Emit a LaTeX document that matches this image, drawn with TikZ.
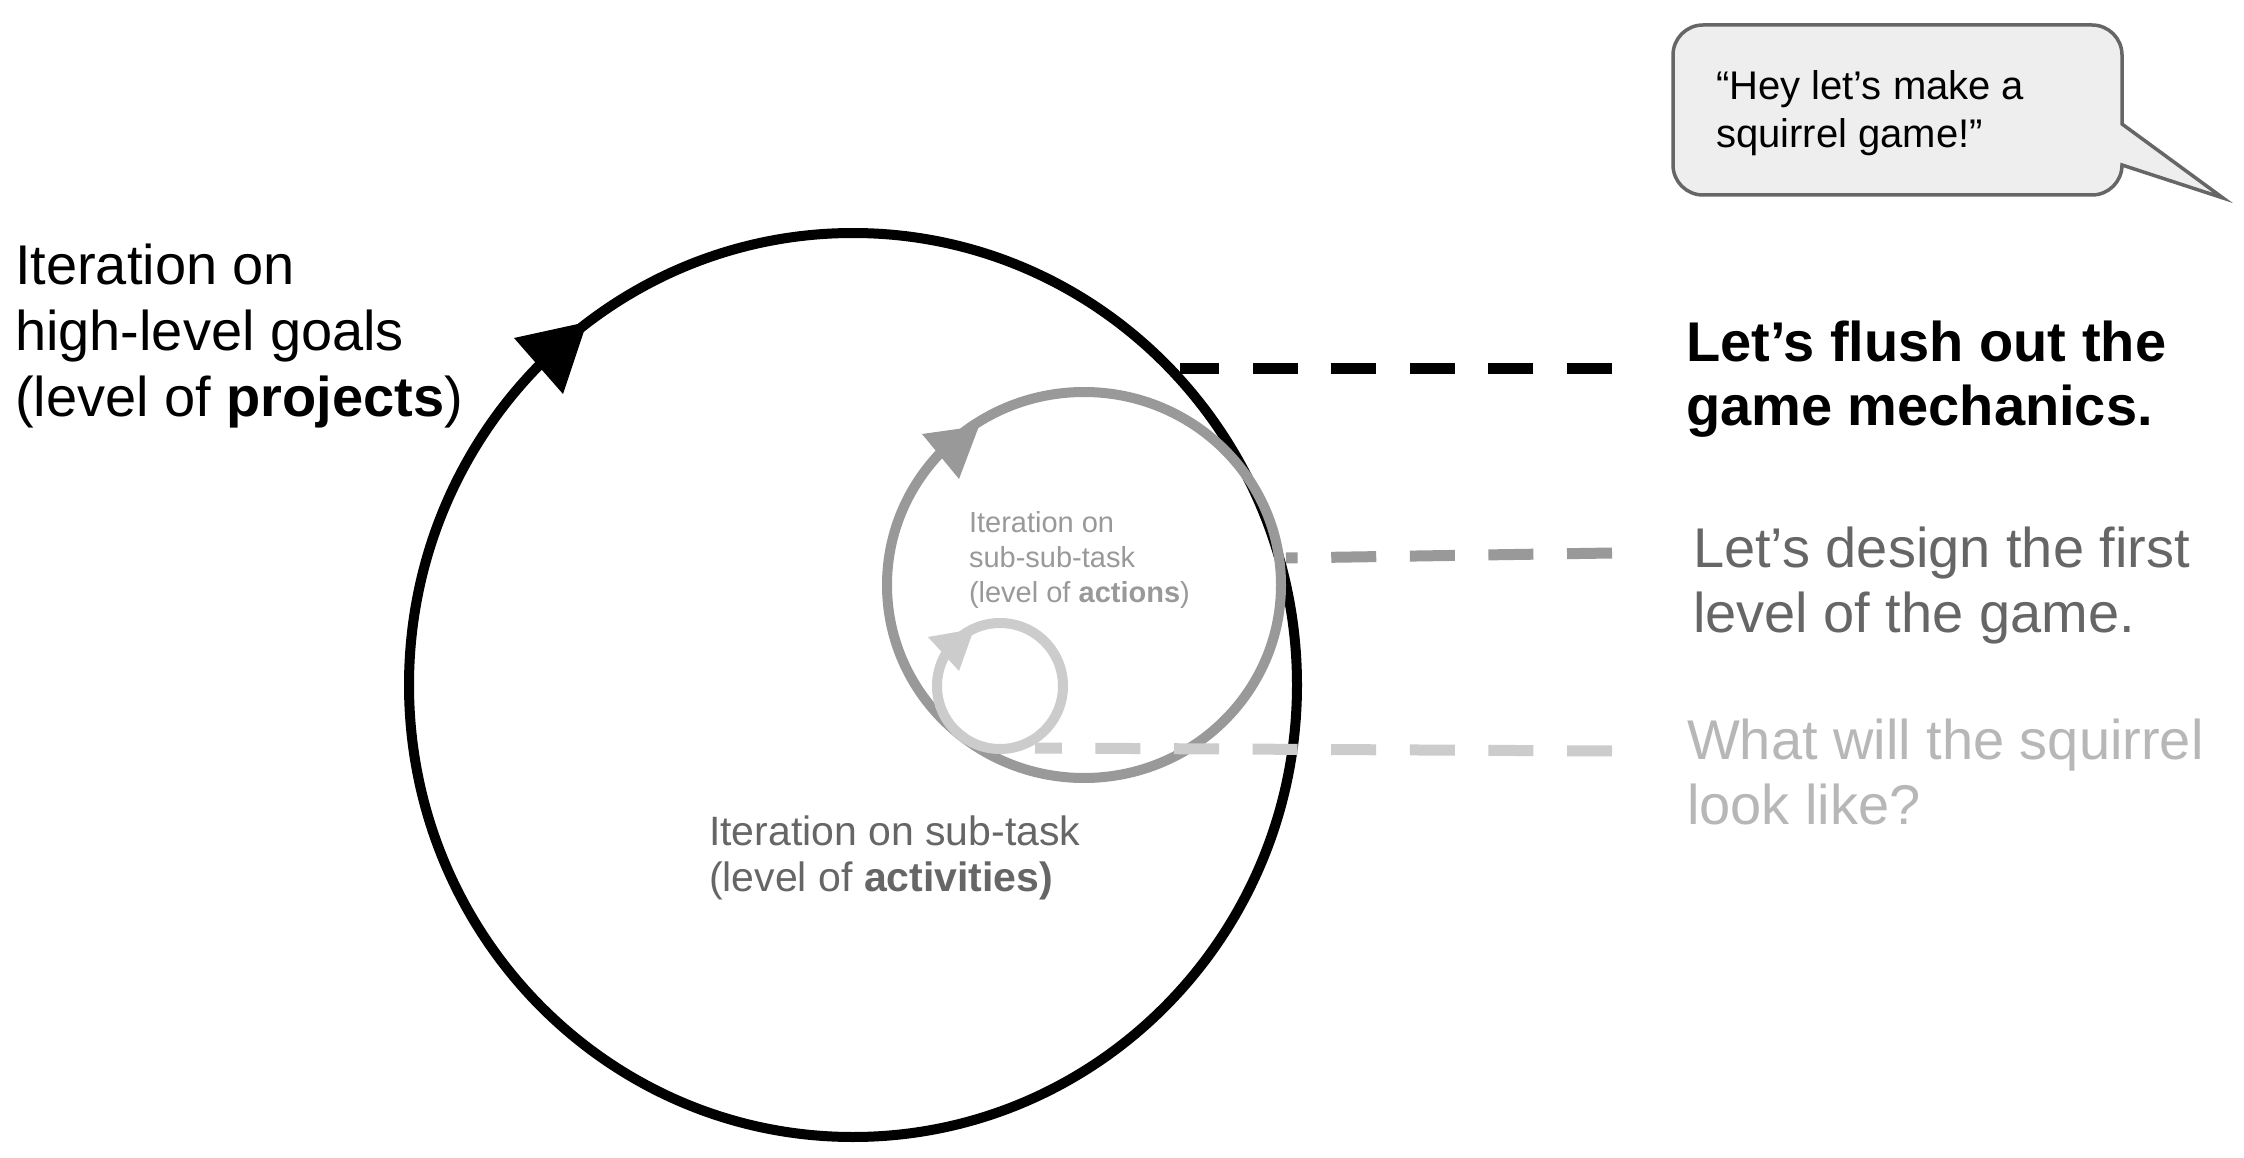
\documentclass[tikz,border=0pt]{standalone}
\usepackage{fontspec}
\setmainfont{Liberation Sans}
\definecolor{gA}{HTML}{999999}
\definecolor{gB}{HTML}{CCCCCC}
\definecolor{gT}{HTML}{666666}
\definecolor{gL}{HTML}{B7B7B7}
\definecolor{bubblefill}{HTML}{EEEEEE}
\definecolor{bubbleline}{HTML}{666666}
\newcommand\txtblock[3]{\fontsize{#1}{#2}\selectfont\begin{tabular}[t]{@{}l@{}}#3\end{tabular}}
\begin{document}
\begin{tikzpicture}[x=1pt,y=-1pt,
  ring/.style={line width=10pt},
  dashline/.style={line width=11pt, dash pattern=on 45pt off 33.6pt},
  txt/.style={anchor=base west, inner sep=0pt, outer sep=0pt}]
\useasboundingbox (0,0) rectangle (2244,1158);
\fill[white] (0,0) rectangle (2244,1158);

% coordinates
\coordinate (cBig) at (853,685);
\coordinate (cMid) at (1084,585);
\coordinate (cSmall) at (1000,686);

% rings
\draw[ring, black] (cBig) ellipse [x radius=444, y radius=452];
\fill[black] (587,322) -- (514,338) -- (563,394) -- cycle;

\draw[ring, gA] (cMid) ellipse [x radius=197, y radius=193];
\fill[gA] (979,426) -- (922,434) -- (959,479) -- cycle;

\draw[ring, gB] (cSmall) circle [radius=63];
\fill[gB] (974,629) -- (928,637) -- (959,671) -- cycle;

% dashed leaders
\coordinate (bR) at (1612,368);
\coordinate (bL) at (1180,368);
\coordinate (mR) at (1612,553);
\coordinate (mL) at (1286,558);
\coordinate (lR) at (1612,751);
\coordinate (lL) at (1035,748);
\draw[dashline, black] (bR) -- (bL);
\draw[dashline, gA] (mR) -- (mL);
\draw[dashline, gB] (lR) -- (lL);

% speech bubble
\draw[line width=3.5pt, draw=bubbleline, fill=bubblefill]
  (1703,25) -- (2092,25) arc[start angle=270, end angle=360, radius=30]
  -- (2122,124) -- (2223,198) -- (2122,165)
  arc[start angle=0, end angle=90, radius=30]
  -- (1703,195) arc[start angle=90, end angle=180, radius=30]
  -- (1673,55) arc[start angle=180, end angle=270, radius=30] -- cycle;
\node[txt, text=black] (quote) at (1716,100)
  {\txtblock{40}{48}{``Hey let’s make a\\ squirrel game!''}};

% texts
\node[txt, text=black] (projects) at (15,285)
  {\txtblock{56}{66}{Iteration on\\ high-level goals\\ (level of \textbf{projects})}};
\node[txt, text=black] (mech) at (1686,361)
  {\txtblock{56}{65}{\textbf{Let’s flush out the}\\ \textbf{game mechanics.}}};
\node[txt, text=gT] (design) at (1693,567)
  {\txtblock{56}{65}{Let’s design the first\\ level of the game.}};
\node[txt, text=gL] (squirrel) at (1687,759)
  {\txtblock{56}{65}{What will the squirrel\\ look like?}};
\node[txt, text=gT] (activities) at (709,845)
  {\txtblock{41}{46}{Iteration on sub-task\\ (level of \textbf{activities)}}};
\node[txt, text=gA] (actions) at (969,532)
  {\txtblock{29}{35}{Iteration on\\ sub-sub-task\\ (level of \textbf{actions})}};
\end{tikzpicture}
\end{document}
